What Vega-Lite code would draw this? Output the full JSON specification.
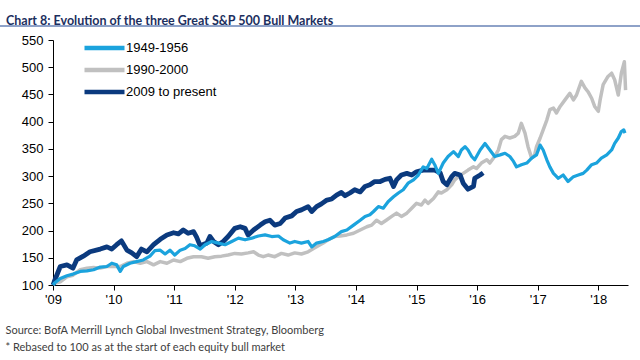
{
  "$schema": "https://vega.github.io/schema/vega-lite/v6.json",
  "autosize": {"type": "none"},
  "width": 575,
  "height": 245,
  "padding": {"left": 53, "top": 40, "right": 12, "bottom": 75},
  "background": "white",
  "title": {"text": "Chart 8: Evolution of the three Great S&P 500 Bull Markets", "anchor": "start", "frame": "group", "dx": -47, "dy": 16, "offset": 4, "baseline": "alphabetic", "font": "Lato", "fontSize": 12.5, "fontWeight": "bold", "color": "#1c2f5e"},
  "config": {"view": {"stroke": null}},
  "datasets": {
    "lines": [
      {"s": "1990-2000", "t": 2009.00, "v": 100}, {"s": "1990-2000", "t": 2009.02, "v": 103}, {"s": "1990-2000", "t": 2009.12, "v": 106}, {"s": "1990-2000", "t": 2009.23, "v": 115}, {"s": "1990-2000", "t": 2009.33, "v": 118}, {"s": "1990-2000", "t": 2009.45, "v": 128}, {"s": "1990-2000", "t": 2009.56, "v": 131}, {"s": "1990-2000", "t": 2009.67, "v": 132}, {"s": "1990-2000", "t": 2009.78, "v": 131}, {"s": "1990-2000", "t": 2009.89, "v": 134}, {"s": "1990-2000", "t": 2010.00, "v": 134}, {"s": "1990-2000", "t": 2010.11, "v": 134}, {"s": "1990-2000", "t": 2010.22, "v": 140}, {"s": "1990-2000", "t": 2010.33, "v": 143}, {"s": "1990-2000", "t": 2010.44, "v": 140}, {"s": "1990-2000", "t": 2010.55, "v": 143}, {"s": "1990-2000", "t": 2010.66, "v": 137}, {"s": "1990-2000", "t": 2010.77, "v": 143}, {"s": "1990-2000", "t": 2010.88, "v": 140}, {"s": "1990-2000", "t": 2010.99, "v": 146}, {"s": "1990-2000", "t": 2011.10, "v": 143}, {"s": "1990-2000", "t": 2011.21, "v": 149}, {"s": "1990-2000", "t": 2011.32, "v": 152}, {"s": "1990-2000", "t": 2011.45, "v": 152}, {"s": "1990-2000", "t": 2011.56, "v": 149}, {"s": "1990-2000", "t": 2011.67, "v": 152}, {"s": "1990-2000", "t": 2011.78, "v": 153}, {"s": "1990-2000", "t": 2011.89, "v": 155}, {"s": "1990-2000", "t": 2012.00, "v": 158}, {"s": "1990-2000", "t": 2012.11, "v": 157}, {"s": "1990-2000", "t": 2012.22, "v": 159}, {"s": "1990-2000", "t": 2012.31, "v": 161}, {"s": "1990-2000", "t": 2012.39, "v": 155}, {"s": "1990-2000", "t": 2012.47, "v": 152}, {"s": "1990-2000", "t": 2012.55, "v": 155}, {"s": "1990-2000", "t": 2012.66, "v": 152}, {"s": "1990-2000", "t": 2012.77, "v": 158}, {"s": "1990-2000", "t": 2012.88, "v": 155}, {"s": "1990-2000", "t": 2012.99, "v": 159}, {"s": "1990-2000", "t": 2013.10, "v": 157}, {"s": "1990-2000", "t": 2013.21, "v": 161}, {"s": "1990-2000", "t": 2013.30, "v": 167}, {"s": "1990-2000", "t": 2013.38, "v": 172}, {"s": "1990-2000", "t": 2013.46, "v": 177}, {"s": "1990-2000", "t": 2013.54, "v": 183}, {"s": "1990-2000", "t": 2013.65, "v": 189}, {"s": "1990-2000", "t": 2013.74, "v": 190}, {"s": "1990-2000", "t": 2013.85, "v": 192}, {"s": "1990-2000", "t": 2013.96, "v": 195}, {"s": "1990-2000", "t": 2014.07, "v": 201}, {"s": "1990-2000", "t": 2014.18, "v": 207}, {"s": "1990-2000", "t": 2014.26, "v": 210}, {"s": "1990-2000", "t": 2014.34, "v": 219}, {"s": "1990-2000", "t": 2014.42, "v": 213}, {"s": "1990-2000", "t": 2014.50, "v": 219}, {"s": "1990-2000", "t": 2014.59, "v": 226}, {"s": "1990-2000", "t": 2014.67, "v": 232}, {"s": "1990-2000", "t": 2014.75, "v": 226}, {"s": "1990-2000", "t": 2014.84, "v": 232}, {"s": "1990-2000", "t": 2014.92, "v": 241}, {"s": "1990-2000", "t": 2015.00, "v": 250}, {"s": "1990-2000", "t": 2015.08, "v": 247}, {"s": "1990-2000", "t": 2015.14, "v": 256}, {"s": "1990-2000", "t": 2015.19, "v": 250}, {"s": "1990-2000", "t": 2015.28, "v": 259}, {"s": "1990-2000", "t": 2015.36, "v": 271}, {"s": "1990-2000", "t": 2015.41, "v": 269}, {"s": "1990-2000", "t": 2015.50, "v": 275}, {"s": "1990-2000", "t": 2015.58, "v": 284}, {"s": "1990-2000", "t": 2015.63, "v": 293}, {"s": "1990-2000", "t": 2015.69, "v": 299}, {"s": "1990-2000", "t": 2015.77, "v": 305}, {"s": "1990-2000", "t": 2015.85, "v": 311}, {"s": "1990-2000", "t": 2015.94, "v": 317}, {"s": "1990-2000", "t": 2015.99, "v": 314}, {"s": "1990-2000", "t": 2016.07, "v": 324}, {"s": "1990-2000", "t": 2016.16, "v": 330}, {"s": "1990-2000", "t": 2016.21, "v": 324}, {"s": "1990-2000", "t": 2016.29, "v": 336}, {"s": "1990-2000", "t": 2016.35, "v": 348}, {"s": "1990-2000", "t": 2016.40, "v": 367}, {"s": "1990-2000", "t": 2016.46, "v": 373}, {"s": "1990-2000", "t": 2016.54, "v": 370}, {"s": "1990-2000", "t": 2016.62, "v": 373}, {"s": "1990-2000", "t": 2016.68, "v": 379}, {"s": "1990-2000", "t": 2016.73, "v": 397}, {"s": "1990-2000", "t": 2016.79, "v": 379}, {"s": "1990-2000", "t": 2016.84, "v": 354}, {"s": "1990-2000", "t": 2016.90, "v": 333}, {"s": "1990-2000", "t": 2016.95, "v": 339}, {"s": "1990-2000", "t": 2016.98, "v": 354}, {"s": "1990-2000", "t": 2017.04, "v": 370}, {"s": "1990-2000", "t": 2017.09, "v": 385}, {"s": "1990-2000", "t": 2017.15, "v": 403}, {"s": "1990-2000", "t": 2017.20, "v": 422}, {"s": "1990-2000", "t": 2017.26, "v": 425}, {"s": "1990-2000", "t": 2017.31, "v": 416}, {"s": "1990-2000", "t": 2017.37, "v": 428}, {"s": "1990-2000", "t": 2017.45, "v": 440}, {"s": "1990-2000", "t": 2017.53, "v": 452}, {"s": "1990-2000", "t": 2017.59, "v": 440}, {"s": "1990-2000", "t": 2017.64, "v": 449}, {"s": "1990-2000", "t": 2017.72, "v": 474}, {"s": "1990-2000", "t": 2017.78, "v": 462}, {"s": "1990-2000", "t": 2017.83, "v": 455}, {"s": "1990-2000", "t": 2017.89, "v": 443}, {"s": "1990-2000", "t": 2017.94, "v": 428}, {"s": "1990-2000", "t": 2018.00, "v": 419}, {"s": "1990-2000", "t": 2018.03, "v": 440}, {"s": "1990-2000", "t": 2018.08, "v": 468}, {"s": "1990-2000", "t": 2018.16, "v": 483}, {"s": "1990-2000", "t": 2018.22, "v": 489}, {"s": "1990-2000", "t": 2018.27, "v": 477}, {"s": "1990-2000", "t": 2018.33, "v": 449}, {"s": "1990-2000", "t": 2018.38, "v": 489}, {"s": "1990-2000", "t": 2018.43, "v": 510}, {"s": "1990-2000", "t": 2018.45, "v": 458},

      {"s": "2009 to present", "t": 2009.00, "v": 100}, {"s": "2009 to present", "t": 2009.02, "v": 106}, {"s": "2009 to present", "t": 2009.12, "v": 134}, {"s": "2009 to present", "t": 2009.23, "v": 137}, {"s": "2009 to present", "t": 2009.33, "v": 131}, {"s": "2009 to present", "t": 2009.39, "v": 146}, {"s": "2009 to present", "t": 2009.50, "v": 153}, {"s": "2009 to present", "t": 2009.61, "v": 161}, {"s": "2009 to present", "t": 2009.78, "v": 166}, {"s": "2009 to present", "t": 2009.89, "v": 170}, {"s": "2009 to present", "t": 2009.97, "v": 166}, {"s": "2009 to present", "t": 2010.05, "v": 174}, {"s": "2009 to present", "t": 2010.13, "v": 181}, {"s": "2009 to present", "t": 2010.22, "v": 164}, {"s": "2009 to present", "t": 2010.30, "v": 159}, {"s": "2009 to present", "t": 2010.38, "v": 152}, {"s": "2009 to present", "t": 2010.46, "v": 166}, {"s": "2009 to present", "t": 2010.55, "v": 161}, {"s": "2009 to present", "t": 2010.66, "v": 174}, {"s": "2009 to present", "t": 2010.77, "v": 184}, {"s": "2009 to present", "t": 2010.88, "v": 192}, {"s": "2009 to present", "t": 2010.99, "v": 196}, {"s": "2009 to present", "t": 2011.07, "v": 194}, {"s": "2009 to present", "t": 2011.15, "v": 201}, {"s": "2009 to present", "t": 2011.23, "v": 195}, {"s": "2009 to present", "t": 2011.32, "v": 198}, {"s": "2009 to present", "t": 2011.37, "v": 188}, {"s": "2009 to present", "t": 2011.43, "v": 172}, {"s": "2009 to present", "t": 2011.54, "v": 177}, {"s": "2009 to present", "t": 2011.59, "v": 189}, {"s": "2009 to present", "t": 2011.65, "v": 180}, {"s": "2009 to present", "t": 2011.73, "v": 174}, {"s": "2009 to present", "t": 2011.81, "v": 180}, {"s": "2009 to present", "t": 2011.89, "v": 189}, {"s": "2009 to present", "t": 2012.00, "v": 204}, {"s": "2009 to present", "t": 2012.09, "v": 207}, {"s": "2009 to present", "t": 2012.17, "v": 204}, {"s": "2009 to present", "t": 2012.22, "v": 192}, {"s": "2009 to present", "t": 2012.31, "v": 201}, {"s": "2009 to present", "t": 2012.42, "v": 210}, {"s": "2009 to present", "t": 2012.50, "v": 216}, {"s": "2009 to present", "t": 2012.58, "v": 219}, {"s": "2009 to present", "t": 2012.66, "v": 210}, {"s": "2009 to present", "t": 2012.75, "v": 213}, {"s": "2009 to present", "t": 2012.83, "v": 223}, {"s": "2009 to present", "t": 2012.94, "v": 227}, {"s": "2009 to present", "t": 2013.02, "v": 235}, {"s": "2009 to present", "t": 2013.10, "v": 238}, {"s": "2009 to present", "t": 2013.21, "v": 244}, {"s": "2009 to present", "t": 2013.27, "v": 235}, {"s": "2009 to present", "t": 2013.35, "v": 244}, {"s": "2009 to present", "t": 2013.43, "v": 249}, {"s": "2009 to present", "t": 2013.52, "v": 256}, {"s": "2009 to present", "t": 2013.60, "v": 258}, {"s": "2009 to present", "t": 2013.68, "v": 265}, {"s": "2009 to present", "t": 2013.76, "v": 270}, {"s": "2009 to present", "t": 2013.82, "v": 264}, {"s": "2009 to present", "t": 2013.90, "v": 269}, {"s": "2009 to present", "t": 2013.98, "v": 275}, {"s": "2009 to present", "t": 2014.07, "v": 271}, {"s": "2009 to present", "t": 2014.15, "v": 281}, {"s": "2009 to present", "t": 2014.23, "v": 284}, {"s": "2009 to present", "t": 2014.31, "v": 290}, {"s": "2009 to present", "t": 2014.40, "v": 290}, {"s": "2009 to present", "t": 2014.48, "v": 294}, {"s": "2009 to present", "t": 2014.56, "v": 296}, {"s": "2009 to present", "t": 2014.62, "v": 281}, {"s": "2009 to present", "t": 2014.67, "v": 293}, {"s": "2009 to present", "t": 2014.75, "v": 302}, {"s": "2009 to present", "t": 2014.84, "v": 305}, {"s": "2009 to present", "t": 2014.92, "v": 302}, {"s": "2009 to present", "t": 2015.00, "v": 308}, {"s": "2009 to present", "t": 2015.11, "v": 311}, {"s": "2009 to present", "t": 2015.22, "v": 311}, {"s": "2009 to present", "t": 2015.30, "v": 311}, {"s": "2009 to present", "t": 2015.39, "v": 306}, {"s": "2009 to present", "t": 2015.44, "v": 290}, {"s": "2009 to present", "t": 2015.50, "v": 284}, {"s": "2009 to present", "t": 2015.58, "v": 299}, {"s": "2009 to present", "t": 2015.63, "v": 305}, {"s": "2009 to present", "t": 2015.72, "v": 302}, {"s": "2009 to present", "t": 2015.77, "v": 287}, {"s": "2009 to present", "t": 2015.85, "v": 276}, {"s": "2009 to present", "t": 2015.94, "v": 281}, {"s": "2009 to present", "t": 2015.96, "v": 296}, {"s": "2009 to present", "t": 2016.05, "v": 302}, {"s": "2009 to present", "t": 2016.10, "v": 306},

      {"s": "1949-1956", "t": 2009.00, "v": 100}, {"s": "1949-1956", "t": 2009.02, "v": 103}, {"s": "1949-1956", "t": 2009.12, "v": 112}, {"s": "1949-1956", "t": 2009.23, "v": 117}, {"s": "1949-1956", "t": 2009.33, "v": 120}, {"s": "1949-1956", "t": 2009.45, "v": 125}, {"s": "1949-1956", "t": 2009.56, "v": 126}, {"s": "1949-1956", "t": 2009.67, "v": 128}, {"s": "1949-1956", "t": 2009.78, "v": 133}, {"s": "1949-1956", "t": 2009.89, "v": 134}, {"s": "1949-1956", "t": 2009.97, "v": 140}, {"s": "1949-1956", "t": 2010.05, "v": 137}, {"s": "1949-1956", "t": 2010.11, "v": 125}, {"s": "1949-1956", "t": 2010.16, "v": 134}, {"s": "1949-1956", "t": 2010.27, "v": 140}, {"s": "1949-1956", "t": 2010.38, "v": 143}, {"s": "1949-1956", "t": 2010.49, "v": 146}, {"s": "1949-1956", "t": 2010.60, "v": 153}, {"s": "1949-1956", "t": 2010.68, "v": 163}, {"s": "1949-1956", "t": 2010.77, "v": 164}, {"s": "1949-1956", "t": 2010.85, "v": 157}, {"s": "1949-1956", "t": 2010.93, "v": 164}, {"s": "1949-1956", "t": 2011.01, "v": 155}, {"s": "1949-1956", "t": 2011.10, "v": 164}, {"s": "1949-1956", "t": 2011.18, "v": 167}, {"s": "1949-1956", "t": 2011.26, "v": 174}, {"s": "1949-1956", "t": 2011.34, "v": 172}, {"s": "1949-1956", "t": 2011.43, "v": 166}, {"s": "1949-1956", "t": 2011.51, "v": 174}, {"s": "1949-1956", "t": 2011.62, "v": 180}, {"s": "1949-1956", "t": 2011.73, "v": 177}, {"s": "1949-1956", "t": 2011.84, "v": 174}, {"s": "1949-1956", "t": 2011.95, "v": 180}, {"s": "1949-1956", "t": 2012.06, "v": 186}, {"s": "1949-1956", "t": 2012.17, "v": 183}, {"s": "1949-1956", "t": 2012.28, "v": 186}, {"s": "1949-1956", "t": 2012.39, "v": 190}, {"s": "1949-1956", "t": 2012.50, "v": 192}, {"s": "1949-1956", "t": 2012.61, "v": 189}, {"s": "1949-1956", "t": 2012.72, "v": 190}, {"s": "1949-1956", "t": 2012.80, "v": 183}, {"s": "1949-1956", "t": 2012.91, "v": 177}, {"s": "1949-1956", "t": 2012.99, "v": 180}, {"s": "1949-1956", "t": 2013.10, "v": 177}, {"s": "1949-1956", "t": 2013.21, "v": 180}, {"s": "1949-1956", "t": 2013.27, "v": 170}, {"s": "1949-1956", "t": 2013.35, "v": 177}, {"s": "1949-1956", "t": 2013.46, "v": 180}, {"s": "1949-1956", "t": 2013.54, "v": 183}, {"s": "1949-1956", "t": 2013.65, "v": 189}, {"s": "1949-1956", "t": 2013.76, "v": 198}, {"s": "1949-1956", "t": 2013.85, "v": 201}, {"s": "1949-1956", "t": 2013.96, "v": 210}, {"s": "1949-1956", "t": 2014.07, "v": 219}, {"s": "1949-1956", "t": 2014.15, "v": 226}, {"s": "1949-1956", "t": 2014.23, "v": 229}, {"s": "1949-1956", "t": 2014.29, "v": 235}, {"s": "1949-1956", "t": 2014.37, "v": 244}, {"s": "1949-1956", "t": 2014.45, "v": 241}, {"s": "1949-1956", "t": 2014.53, "v": 253}, {"s": "1949-1956", "t": 2014.62, "v": 262}, {"s": "1949-1956", "t": 2014.70, "v": 269}, {"s": "1949-1956", "t": 2014.78, "v": 275}, {"s": "1949-1956", "t": 2014.86, "v": 287}, {"s": "1949-1956", "t": 2014.95, "v": 293}, {"s": "1949-1956", "t": 2015.03, "v": 302}, {"s": "1949-1956", "t": 2015.11, "v": 317}, {"s": "1949-1956", "t": 2015.17, "v": 314}, {"s": "1949-1956", "t": 2015.25, "v": 331}, {"s": "1949-1956", "t": 2015.30, "v": 321}, {"s": "1949-1956", "t": 2015.36, "v": 305}, {"s": "1949-1956", "t": 2015.44, "v": 324}, {"s": "1949-1956", "t": 2015.52, "v": 336}, {"s": "1949-1956", "t": 2015.61, "v": 345}, {"s": "1949-1956", "t": 2015.69, "v": 336}, {"s": "1949-1956", "t": 2015.74, "v": 348}, {"s": "1949-1956", "t": 2015.80, "v": 354}, {"s": "1949-1956", "t": 2015.85, "v": 348}, {"s": "1949-1956", "t": 2015.91, "v": 336}, {"s": "1949-1956", "t": 2015.96, "v": 330}, {"s": "1949-1956", "t": 2016.05, "v": 348}, {"s": "1949-1956", "t": 2016.13, "v": 360}, {"s": "1949-1956", "t": 2016.21, "v": 348}, {"s": "1949-1956", "t": 2016.29, "v": 336}, {"s": "1949-1956", "t": 2016.38, "v": 339}, {"s": "1949-1956", "t": 2016.46, "v": 342}, {"s": "1949-1956", "t": 2016.54, "v": 336}, {"s": "1949-1956", "t": 2016.60, "v": 327}, {"s": "1949-1956", "t": 2016.65, "v": 317}, {"s": "1949-1956", "t": 2016.73, "v": 321}, {"s": "1949-1956", "t": 2016.82, "v": 324}, {"s": "1949-1956", "t": 2016.90, "v": 333}, {"s": "1949-1956", "t": 2016.98, "v": 339}, {"s": "1949-1956", "t": 2017.04, "v": 357}, {"s": "1949-1956", "t": 2017.09, "v": 348}, {"s": "1949-1956", "t": 2017.15, "v": 330}, {"s": "1949-1956", "t": 2017.20, "v": 317}, {"s": "1949-1956", "t": 2017.26, "v": 305}, {"s": "1949-1956", "t": 2017.34, "v": 296}, {"s": "1949-1956", "t": 2017.42, "v": 302}, {"s": "1949-1956", "t": 2017.50, "v": 290}, {"s": "1949-1956", "t": 2017.59, "v": 299}, {"s": "1949-1956", "t": 2017.67, "v": 302}, {"s": "1949-1956", "t": 2017.75, "v": 305}, {"s": "1949-1956", "t": 2017.81, "v": 311}, {"s": "1949-1956", "t": 2017.89, "v": 321}, {"s": "1949-1956", "t": 2017.97, "v": 324}, {"s": "1949-1956", "t": 2018.05, "v": 333}, {"s": "1949-1956", "t": 2018.14, "v": 339}, {"s": "1949-1956", "t": 2018.22, "v": 348}, {"s": "1949-1956", "t": 2018.27, "v": 360}, {"s": "1949-1956", "t": 2018.33, "v": 370}, {"s": "1949-1956", "t": 2018.38, "v": 382}, {"s": "1949-1956", "t": 2018.42, "v": 385}, {"s": "1949-1956", "t": 2018.44, "v": 379}
    ]
  },
  "data": {"name": "lines"},
  "encoding": {
    "x": {"field": "t", "type": "quantitative", "scale": {"domain": [2009, 2018.49], "nice": false, "zero": false},
      "axis": {"values": [2009, 2010, 2011, 2012, 2013, 2014, 2015, 2016, 2017, 2018], "labelExpr": "\"'\" + substring(toString(datum.value), 2, 4)", "grid": false, "domainColor": "#000000", "domainWidth": 1, "tickColor": "#000000", "tickSize": 5, "labelFont": "Liberation Sans", "labelFontSize": 13, "labelColor": "#000000", "labelPadding": 3, "labelFlush": false,
        "title": ["Source: BofA Merrill Lynch Global Investment Strategy, Bloomberg", "* Rebased to 100 as at the start of each equity bull market"], "titleFont": "Lato", "titleFontSize": 11, "titleFontWeight": "normal", "titleColor": "#404040", "titleAlign": "left", "titleAnchor": "start", "titleBaseline": "alphabetic", "titleX": -48, "titleY": 48, "titleLineHeight": 17.5}},
    "y": {"field": "v", "type": "quantitative", "scale": {"domain": [100, 550], "nice": false, "zero": false},
      "axis": {"values": [100, 150, 200, 250, 300, 350, 400, 450, 500, 550], "grid": false, "domainColor": "#000000", "domainWidth": 1, "tickColor": "#000000", "tickSize": 5, "labelFont": "Liberation Sans", "labelFontSize": 13, "labelColor": "#000000", "labelPadding": 5, "title": null}},
    "color": {"field": "s", "type": "nominal", "scale": {"domain": ["1949-1956", "1990-2000", "2009 to present"], "range": ["#1ba3dd", "#c0c0c0", "#0b3a7e"]},
      "legend": {"orient": "none", "legendX": 45, "legendY": 1.5, "padding": 0, "title": null, "symbolType": "M-5,0H5", "symbolSize": 64, "symbolStrokeWidth": 4.5, "symbolFillColor": "transparent", "labelFont": "Liberation Sans", "labelFontSize": 13, "labelColor": "#000000", "labelOffset": 15, "rowPadding": 3}}
  },
  "layer": [
    {"mark": {"type": "rule", "color": "#8ea3c9", "strokeWidth": 1, "clip": false},
      "encoding": {"x": {"datum": 2008.125}, "x2": {"datum": 2018.69}, "y": {"datum": 576}, "color": {"value": "#8ea3c9"}}},
    {"transform": [{"filter": "datum.s === '1990-2000'"}], "mark": {"type": "line", "strokeWidth": 3.5, "strokeJoin": "round"}},
    {"transform": [{"filter": "datum.s === '2009 to present'"}], "mark": {"type": "line", "strokeWidth": 4.8, "strokeJoin": "round"}},
    {"transform": [{"filter": "datum.s === '1949-1956'"}], "mark": {"type": "line", "strokeWidth": 3.2, "strokeJoin": "round"}}
  ]
}
